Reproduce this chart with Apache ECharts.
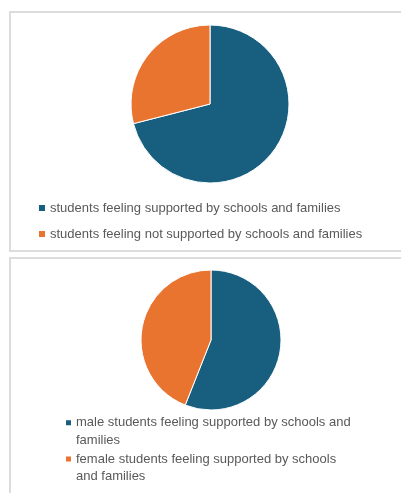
<!DOCTYPE html>
<html>
<head>
<meta charset="utf-8">
<script src="https://cdn.jsdelivr.net/npm/echarts@6/dist/echarts.min.js"></script>
<style>
  html, body { margin: 0; padding: 0; background: #ffffff; }
  #chart { width: 401px; height: 493px; }
</style>
</head>
<body>
<div id="chart"></div>
<script>
// Overall support split
const supportCategories = [
  'students feeling supported by schools and families',
  'students feeling not supported by schools and families'
];
const supportValues = [71, 29];

// Supported students split by gender
const genderCategories = [
  'male students feeling supported by schools and families',
  'female students feeling supported by schools and families'
];
const genderValues = [56, 44];

const seriesColors = ['#185f7f', '#e87430'];
const textGrey = '#595959';
const fontFamily = '"Liberation Sans", Arial, sans-serif';

// Square marker drawn near the top of a tall icon box so it sits beside the first text line
const topSquareIcon = 'path://M0,0h0.001 M0,6h5v5h-5z M0,35h0.001';

const chart = echarts.init(document.getElementById('chart'), null, { renderer: 'canvas' });

chart.setOption({
  animation: false,
  color: seriesColors,
  graphic: [
    { type: 'rect', shape: { x: 10, y: 12, width: 420, height: 239 },
      style: { fill: 'none', stroke: '#dcdcdc', lineWidth: 2 }, silent: true },
    { type: 'rect', shape: { x: 10, y: 258, width: 420, height: 260 },
      style: { fill: 'none', stroke: '#dcdcdc', lineWidth: 2 }, silent: true }
  ],
  legend: [
    {
      orient: 'vertical',
      left: 39,
      top: 200,
      padding: 0,
      itemGap: 10,
      itemWidth: 6,
      itemHeight: 6,
      icon: 'rect',
      selectedMode: false,
      itemStyle: { borderWidth: 0 },
      data: supportCategories,
      textStyle: { fontFamily: fontFamily, fontSize: 13, color: textGrey, lineHeight: 16 }
    },
    {
      orient: 'vertical',
      left: 66,
      top: 414,
      padding: 0,
      itemGap: 0.5,
      itemWidth: 5,
      itemHeight: 35,
      icon: topSquareIcon,
      selectedMode: false,
      itemStyle: { borderWidth: 0 },
      data: genderCategories,
      textStyle: {
        fontFamily: fontFamily, fontSize: 13, color: textGrey, lineHeight: 17.8,
        width: 282, overflow: 'break'
      }
    }
  ],
  series: [
    {
      type: 'pie',
      center: [210, 104],
      radius: 79,
      startAngle: 90,
      clockwise: true,
      label: { show: false },
      labelLine: { show: false },
      emphasis: { disabled: true },
      itemStyle: { borderColor: '#ffffff', borderWidth: 1 },
      data: supportCategories.map((name, i) => ({ name: name, value: supportValues[i] }))
    },
    {
      type: 'pie',
      center: [211, 340],
      radius: 70,
      startAngle: 90,
      clockwise: true,
      label: { show: false },
      labelLine: { show: false },
      emphasis: { disabled: true },
      itemStyle: { borderColor: '#ffffff', borderWidth: 1 },
      data: genderCategories.map((name, i) => ({ name: name, value: genderValues[i] }))
    }
  ]
});
</script>
</body>
</html>
